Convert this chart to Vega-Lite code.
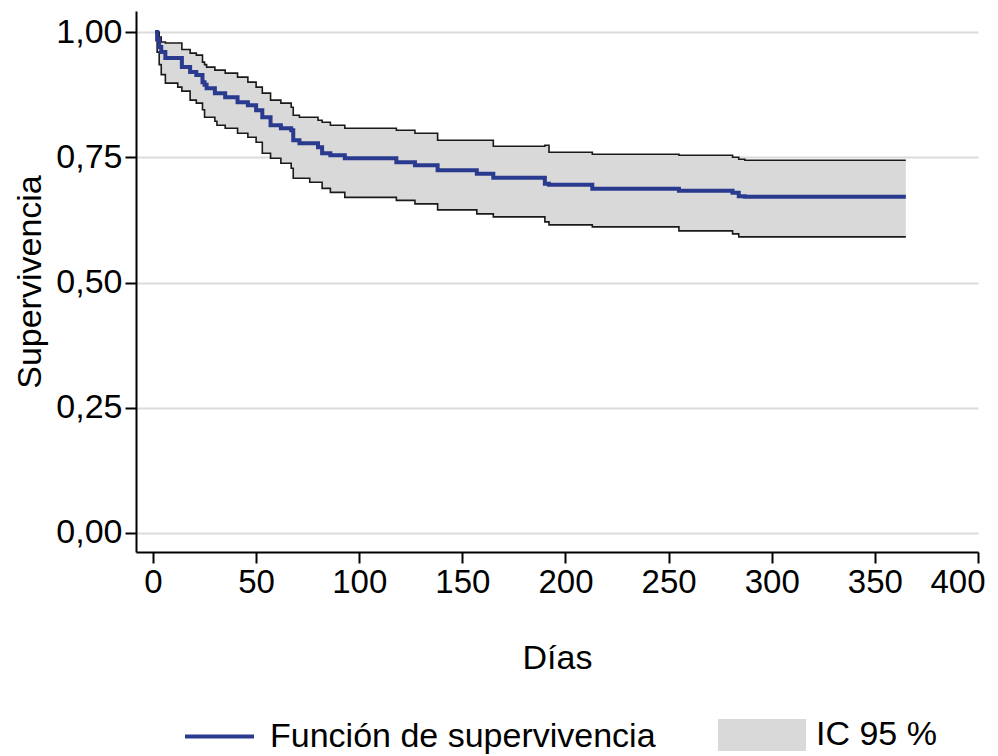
{
  "$schema": "https://vega.github.io/schema/vega-lite/v6.json",
  "width": 842,
  "height": 541,
  "autosize": {"type": "none"},
  "padding": {"left": 136, "top": 11, "right": 20, "bottom": 204},
  "background": "white",
  "config": {"view": {"stroke": null}, "font": "Liberation Sans"},
  "data": {"values": [
    {"t": 1, "s": 1.0, "lo": 1.0, "hi": 1.0},
    {"t": 2, "s": 0.985, "lo": 0.96, "hi": 1.0},
    {"t": 3, "s": 0.97, "lo": 0.935, "hi": 0.99},
    {"t": 4, "s": 0.96, "lo": 0.915, "hi": 0.98},
    {"t": 6, "s": 0.948, "lo": 0.898, "hi": 0.978},
    {"t": 12, "s": 0.948, "lo": 0.89, "hi": 0.978},
    {"t": 14, "s": 0.93, "lo": 0.882, "hi": 0.965},
    {"t": 18, "s": 0.92, "lo": 0.864, "hi": 0.958},
    {"t": 21, "s": 0.914, "lo": 0.858, "hi": 0.954},
    {"t": 24, "s": 0.9, "lo": 0.845, "hi": 0.94},
    {"t": 25, "s": 0.895, "lo": 0.83, "hi": 0.935},
    {"t": 26, "s": 0.888, "lo": 0.83, "hi": 0.93},
    {"t": 30, "s": 0.878, "lo": 0.822, "hi": 0.924},
    {"t": 31, "s": 0.878, "lo": 0.814, "hi": 0.924},
    {"t": 35, "s": 0.87, "lo": 0.808, "hi": 0.918},
    {"t": 41, "s": 0.86, "lo": 0.798, "hi": 0.91},
    {"t": 46, "s": 0.854, "lo": 0.79, "hi": 0.9},
    {"t": 50, "s": 0.844, "lo": 0.78, "hi": 0.89},
    {"t": 53, "s": 0.83, "lo": 0.758, "hi": 0.878},
    {"t": 57, "s": 0.814, "lo": 0.748, "hi": 0.864},
    {"t": 62, "s": 0.808, "lo": 0.738, "hi": 0.858},
    {"t": 67, "s": 0.804, "lo": 0.728, "hi": 0.85},
    {"t": 68, "s": 0.784, "lo": 0.708, "hi": 0.834},
    {"t": 71, "s": 0.778, "lo": 0.708, "hi": 0.83},
    {"t": 76, "s": 0.778, "lo": 0.7, "hi": 0.83},
    {"t": 80, "s": 0.77, "lo": 0.7, "hi": 0.824},
    {"t": 82, "s": 0.758, "lo": 0.688, "hi": 0.82},
    {"t": 86, "s": 0.754, "lo": 0.68, "hi": 0.814},
    {"t": 93, "s": 0.748, "lo": 0.67, "hi": 0.808},
    {"t": 118, "s": 0.74, "lo": 0.664, "hi": 0.804},
    {"t": 127, "s": 0.734, "lo": 0.657, "hi": 0.798},
    {"t": 138, "s": 0.724, "lo": 0.645, "hi": 0.784},
    {"t": 157, "s": 0.717, "lo": 0.637, "hi": 0.784},
    {"t": 165, "s": 0.709, "lo": 0.631, "hi": 0.772},
    {"t": 190, "s": 0.697, "lo": 0.621, "hi": 0.774},
    {"t": 192, "s": 0.695, "lo": 0.615, "hi": 0.76},
    {"t": 213, "s": 0.687, "lo": 0.611, "hi": 0.756},
    {"t": 255, "s": 0.683, "lo": 0.603, "hi": 0.754},
    {"t": 281, "s": 0.679, "lo": 0.597, "hi": 0.75},
    {"t": 284, "s": 0.672, "lo": 0.591, "hi": 0.746},
    {"t": 287, "s": 0.671, "lo": 0.591, "hi": 0.744},
    {"t": 365, "s": 0.671, "lo": 0.591, "hi": 0.744}
  ]},
  "encoding": {
    "x": {
      "field": "t", "type": "quantitative",
      "scale": {"domain": [-8.24, 400], "nice": false, "zero": false},
      "axis": {
        "title": "Días", "values": [0, 50, 100, 150, 200, 250, 300, 350, 400],
        "grid": false, "domainColor": "#000", "domainWidth": 2,
        "tickColor": "#000", "tickWidth": 2, "tickSize": 11,
        "labelFontSize": 33, "labelColor": "#000", "labelPadding": 3,
        "labelFont": "Liberation Sans", "labelFlush": true, "labelFlushOffset": 7, "labelOverlap": false,
        "titleFontSize": 34, "titleFontWeight": "normal", "titleColor": "#000",
        "titleFont": "Liberation Sans", "titlePadding": 42
      }
    }
  },
  "layer": [
    {
      "mark": {"type": "area", "interpolate": "step-after"},
      "encoding": {
        "y": {
          "field": "lo", "type": "quantitative", "title": "Supervivencia",
          "scale": {"domain": [-0.038, 1.042], "nice": false, "zero": false},
          "axis": {
            "title": "Supervivencia", "values": [0, 0.25, 0.5, 0.75, 1],
            "labelExpr": "replace(format(datum.value, '.2f'), '.', ',')",
            "grid": true, "gridColor": "#dcdcdc", "gridWidth": 2,
            "domainColor": "#000", "domainWidth": 2,
            "tickColor": "#000", "tickWidth": 2, "tickSize": 11,
            "labelFontSize": 34, "labelColor": "#000", "labelPadding": 3,
            "labelFont": "Liberation Sans", "labelFlush": false, "labelOverlap": false,
            "titleFontSize": 34, "titleFontWeight": "normal", "titleColor": "#000",
            "titleFont": "Liberation Sans", "titlePadding": 8
          }
        },
        "y2": {"field": "hi"},
        "fill": {
          "datum": "IC 95 %",
          "scale": {"range": ["#d9d9d9"]},
          "legend": {
            "orient": "none", "legendX": 582, "legendY": 680, "title": null, "padding": 0,
            "symbolType": "M-1,-0.364L1,-0.364L1,0.364L-1,0.364Z", "symbolSize": 7744,
            "symbolStrokeWidth": 0, "symbolFillColor": "#d9d9d9", "labelLimit": 0,
            "labelFontSize": 34, "labelFont": "Liberation Sans", "labelColor": "#000", "labelOffset": 10
          }
        }
      }
    },
    {
      "mark": {"type": "line", "interpolate": "step-after", "color": "#1a1a1a", "strokeWidth": 1.6},
      "encoding": {"y": {"field": "lo", "type": "quantitative", "title": "Supervivencia"}}
    },
    {
      "mark": {"type": "line", "interpolate": "step-after", "color": "#1a1a1a", "strokeWidth": 1.6},
      "encoding": {"y": {"field": "hi", "type": "quantitative", "title": "Supervivencia"}}
    },
    {
      "mark": {"type": "line", "interpolate": "step-after", "strokeWidth": 4},
      "encoding": {
        "y": {"field": "s", "type": "quantitative", "title": "Supervivencia"},
        "stroke": {
          "datum": "Función de supervivencia",
          "scale": {"range": ["#2a3a8f"]},
          "legend": {
            "orient": "none", "legendX": 47, "legendY": 689, "title": null, "padding": 0,
            "symbolType": "stroke", "symbolSize": 4761, "symbolStrokeWidth": 4, "labelLimit": 0,
            "labelFontSize": 34, "labelFont": "Liberation Sans", "labelColor": "#000", "labelOffset": 14
          }
        }
      }
    }
  ]
}
